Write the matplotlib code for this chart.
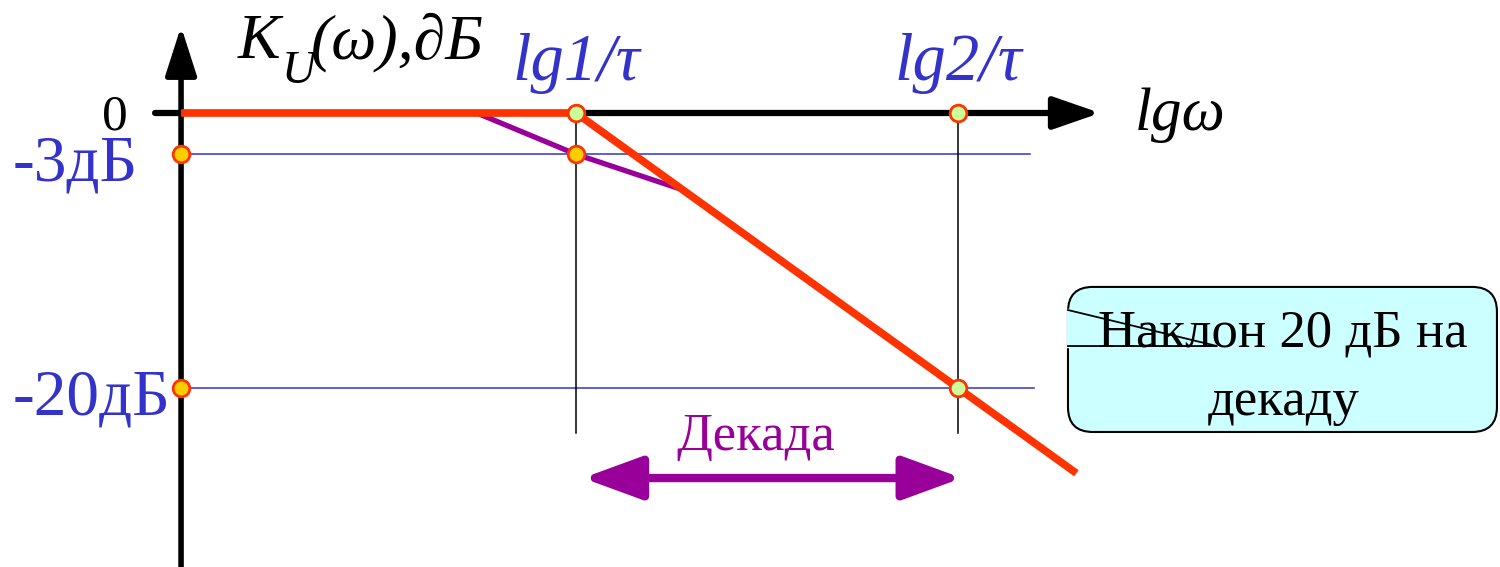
import matplotlib
matplotlib.use('Agg')
import matplotlib.pyplot as plt
from matplotlib.patches import FancyBboxPatch

plt.rcParams['font.family'] = ['Liberation Serif', 'DejaVu Serif']

# данные ЛАЧХ (lg w в декадах, K в дБ)
knee_x = [1.0, 2.0]
knee_labels = ['lg1/τ', 'lg2/τ']
asym_x = [-0.034, 1.0, 2.31]
asym_y = [0, 0, -26.2]
real_x = [0.74, 1.0, 1.27]
real_y = [0, -3, -5.5]
level_db = [-3, -20]
level_labels = ['-3дБ', '-20дБ']
level_end = [2.188, 2.2]

RED = '#FF3300'
BLUE = '#3333CC'
PURPLE = '#990099'
y_axis_x = -0.034

fig = plt.figure(figsize=(15, 5.67), dpi=100)
ax = fig.add_axes([0, 0, 1, 1])
ax.set_xlim(-0.508, 3.419)
ax.set_ylim(-33.02, 8.218)
ax.axis('off')

# оси со стрелками
ax.annotate('', xy=(2.372, 0), xytext=(-0.102, 0),
            arrowprops=dict(arrowstyle='-|>,head_length=0.95,head_width=0.33',
                            mutation_scale=30, lw=4.5, color='black',
                            shrinkA=0, shrinkB=0), zorder=2)
ax.annotate('', xy=(y_axis_x, 6.3), xytext=(y_axis_x, -33.5),
            arrowprops=dict(arrowstyle='-|>,head_length=1.0,head_width=0.32',
                            mutation_scale=30, lw=4, color='black',
                            shrinkA=0, shrinkB=0), zorder=2)

# уровни -3 и -20 дБ
for lv, lab, xe in zip(level_db, level_labels, level_end):
    ax.plot([y_axis_x, xe], [lv, lv], color=BLUE, lw=1.1, zorder=1)
    ax.text(-0.474, lv - 1.9, lab, color=BLUE, fontsize=47, ha='left', va='baseline')

# вертикальные линии
for xk, lab in zip(knee_x, knee_labels):
    ax.plot([xk, xk], [0, -23.3], color='black', lw=1.1, zorder=1)
    ax.text(xk, 2.4, lab, color=BLUE, fontsize=48, style='italic',
            ha='center', va='baseline')

ax.plot(real_x, real_y, color=PURPLE, lw=3.8, zorder=3, solid_capstyle='butt')
ax.plot(asym_x, asym_y, color=RED, lw=5.5, zorder=4, solid_capstyle='butt')

# точки
ax.plot([y_axis_x, y_axis_x, 1.0], [-3, -20, -3], 'o', ms=12, mfc='#FFCC00',
        mec=RED, mew=2, zorder=5)
ax.plot([1.0, 2.0, 2.0], [0, 0, -20], 'o', ms=12, mfc='#CCFF99',
        mec=RED, mew=2, zorder=5)

# подписи
ax.text(-0.173, -1.2, '0', fontsize=37, ha='right', va='baseline')
ax.text(0.115, 4.0, 'K', fontsize=46, style='italic', ha='left', va='baseline')
ax.text(0.23, 2.2, 'U', fontsize=34, style='italic', ha='left', va='baseline')
ax.text(0.306, 4.0, '(ω),∂Б', fontsize=46, style='italic', ha='left', va='baseline')
ax.text(2.463, -1.24, 'lgω', fontsize=44, style='italic', ha='left', va='baseline')

# декада
ax.annotate('', xy=(2.01, -26.55), xytext=(1.018, -26.55),
            arrowprops=dict(arrowstyle='<|-|>,head_length=0.9,head_width=0.33',
                            mutation_scale=40, lw=6, color=PURPLE,
                            shrinkA=0, shrinkB=0))
ax.text(1.47, -24.5, 'Декада', color=PURPLE, fontsize=38, ha='center', va='baseline')

# выноска
box = FancyBboxPatch((2.288, -23.2), 3.411 - 2.288, 23.2 - 12.65,
                     boxstyle='round,pad=0,rounding_size=0.065',
                     mutation_aspect=27.8, fc='#CCFFFF', ec='black', lw=1.5, zorder=6)
ax.add_patch(box)
ax.plot([2.288, 2.288], [-14.33, -16.95], color='#CCFFFF', lw=2.5, zorder=7)
ax.plot([2.288, 2.678, 2.288], [-14.33, -16.95, -16.95], color='black', lw=1.3, zorder=7)
ax.text(2.851, -16.95, 'Наклон 20 дБ на', fontsize=38, ha='center', va='baseline', zorder=8)
ax.text(2.853, -21.96, 'декаду', fontsize=38, ha='center', va='baseline', zorder=8)

fig.savefig('out.png', dpi=100)
